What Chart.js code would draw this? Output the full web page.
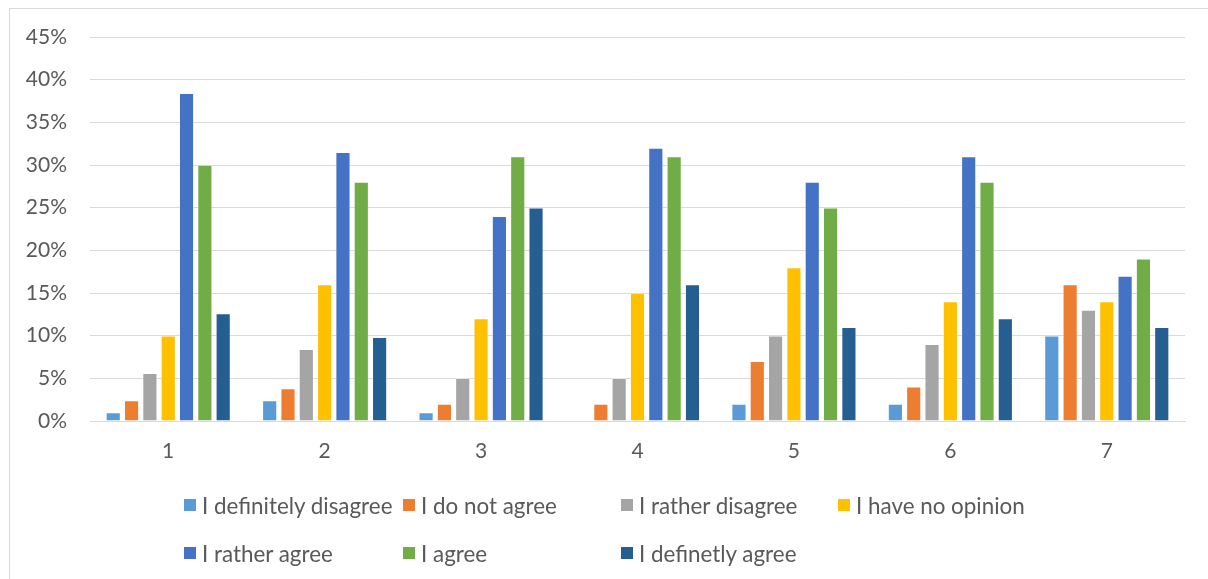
<!DOCTYPE html>
<html>
<head>
<meta charset="utf-8">
<script src="https://cdn.jsdelivr.net/npm/chart.js@4/dist/chart.umd.min.js"></script>
<style>
  html, body { margin: 0; padding: 0; background: #fff; }
  #wrap { position: relative; width: 1208px; height: 579px; overflow: hidden; font-family: Lato, "Open Sans", sans-serif; }
  #frame { position: absolute; left: 9px; top: 8px; width: 1300px; height: 700px; border-left: 1px solid #d9d9d9; border-top: 1px solid #d9d9d9; }
  #c { position: absolute; left: 0; top: 0; }
  .item { position: absolute; top: 0; display: flex; align-items: center; white-space: nowrap; color: #595959; font-size: 22.4px; height: 20px; }
  .swatch { width: 12px; height: 12px; margin-right: 6px; flex: none; }
</style>
</head>
<body>
<div id="wrap">
  <div id="frame"></div>
  <canvas id="c" width="1208" height="579"></canvas>
  <div id="legend"></div>
</div>
<script>
// Question numbers along the x axis
const categories = ['1', '2', '3', '4', '5', '6', '7'];

// Share of answers (%) per response option
const definitelyDisagree = [1, 2.4, 1, 0, 2, 2, 10];
const doNotAgree         = [2.4, 3.8, 2, 2, 7, 4, 16];
const ratherDisagree     = [5.6, 8.4, 5, 5, 10, 9, 13];
const noOpinion          = [10, 16, 12, 15, 18, 14, 14];
const ratherAgree        = [38.4, 31.5, 24, 32, 28, 31, 17];
const agree              = [30, 28, 31, 31, 25, 28, 19];
const definetlyAgree     = [12.6, 9.8, 25, 16, 11, 12, 11];

const seriesNames = [
  'I definitely disagree', 'I do not agree', 'I rather disagree', 'I have no opinion',
  'I rather agree', 'I agree', 'I definetly agree'
];
const seriesValues = [
  definitelyDisagree, doNotAgree, ratherDisagree, noOpinion,
  ratherAgree, agree, definetlyAgree
];
const seriesColors = ['#5B9BD5', '#ED7D31', '#A5A5A5', '#FFC000', '#4472C4', '#70AD47', '#255E91'];

// Y axis: 0% .. 45% in 5% steps
const yMax = 45;
const yStep = 5;

const FONT = 'Lato, "Open Sans", sans-serif';
const TEXT = '#595959';
const GRID = '#d9d9d9';

const datasets = seriesNames.map((name, i) => ({
  label: name,
  data: seriesValues[i],
  backgroundColor: seriesColors[i],
  borderColor: 'rgba(255,255,255,0.6)',
  borderWidth: 0.75,
  categoryPercentage: 0.82,
  barPercentage: 0.8
}));

new Chart(document.getElementById('c'), {
  type: 'bar',
  data: { labels: categories, datasets },
  options: {
    responsive: false,
    animation: false,
    layout: { padding: { top: 37, right: 23, bottom: 118, left: 0 } },
    plugins: { legend: { display: false }, tooltip: { enabled: false } },
    scales: {
      x: {
        grid: { display: false, drawTicks: false },
        border: { display: true, color: GRID, width: 1 },
        ticks: { color: TEXT, font: { family: FONT, size: 21 }, padding: 18 },
        afterFit: s => { s.height = 40; }
      },
      y: {
        min: 0,
        max: yMax,
        grid: { color: GRID, lineWidth: 1, drawTicks: false },
        border: { display: false },
        ticks: {
          stepSize: yStep,
          color: TEXT,
          font: { family: FONT, size: 21 },
          padding: 23,
          callback: v => v + '%'
        },
        afterFit: s => { s.width = 90; }
      }
    }
  }
});

// Legend laid out on a fixed grid of columns, two rows
const legend = document.getElementById('legend');
const colX = [0, 219, 437, 654];
const rowY = [495, 543];
seriesNames.forEach((name, i) => {
  const row = i < 4 ? 0 : 1;
  const col = i < 4 ? i : i - 4;
  const el = document.createElement('div');
  el.className = 'item';
  el.style.left = (184 + colX[col]) + 'px';
  el.style.top = rowY[row] + 'px';
  el.innerHTML = '<span class="swatch" style="background:' + seriesColors[i] + '"></span><span>' + name + '</span>';
  legend.appendChild(el);
});
</script>
</body>
</html>
